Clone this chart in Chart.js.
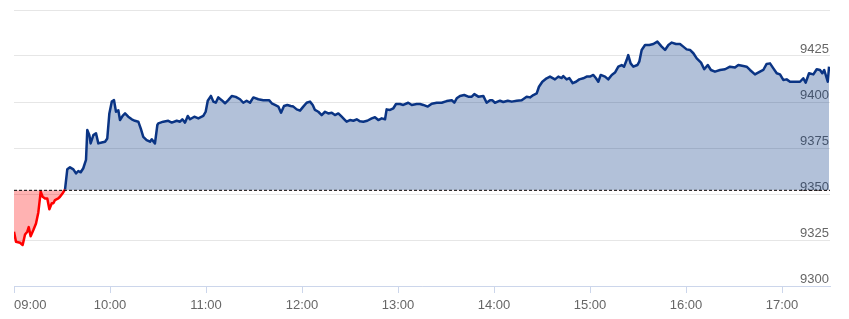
<!DOCTYPE html>
<html>
<head>
<meta charset="utf-8">
<script src="https://cdn.jsdelivr.net/npm/chart.js@4/dist/chart.umd.min.js"></script>
<style>
  html, body { margin: 0; padding: 0; background: #ffffff; }
  #wrap { width: 849px; height: 319px; position: relative; }
</style>
</head>
<body>
<div id="wrap"><canvas id="c" width="849" height="319"></canvas></div>
<script>
// Minutes after 09:00
const minutes = [
  0, 1.25, 3.75, 5.4, 6.9, 8.3, 9.2, 10.4, 12.1, 13.75, 15.2, 16.7, 17.9, 19.4, 20.8, 22.1, 23.6, 24.6, 25.6, 27.7,
  28.75, 30.4, 31.9, 33.3, 35, 37.1, 38.75, 40.2, 41.7, 43.3, 45, 45.8, 47.1, 47.9, 49.6, 51.25, 52.7, 54.8, 56.9, 58.3,
  59.6, 61.1, 62.5, 63.75, 65.2, 66.25, 67.9, 69.4, 71.4, 73.6, 75.6, 77.7, 79.2, 80.8, 82.9, 85, 86.1, 88.1, 89.6, 90.2,
  93.3, 96.4, 98.6, 101.7, 103.75, 105.2, 106.9, 108.6, 110, 112.7, 115.2, 118.3, 119.8, 121.1, 123.1, 124.6, 126.1, 127.7, 129.8, 131.9,
  133.9, 136.1, 138.6, 141.25, 143.3, 145.4, 147.5, 149.6, 152.7, 155.8, 159.4, 161.1, 163.1, 165.2, 166.9, 168.75, 170.8, 172.9, 174.6, 176.7,
  178.75, 180.8, 182.9, 185, 186.7, 188.1, 190.2, 192.3, 194.4, 196.4, 198.6, 200.6, 202.7, 204.8, 206.9, 207.9, 210, 212.1, 214.2, 216.25,
  218.3, 220.8, 223.6, 225.6, 227.7, 229.8, 231.9, 232.9, 235, 237.1, 238.75, 241.25, 243.3, 246.4, 248.6, 251.7, 253.75, 255.8, 258.6, 261.1,
  264.2, 267.3, 270.4, 273.6, 275.2, 276.7, 278.75, 281.4, 283.9, 286.1, 287.7, 290.2, 293.3, 295.4, 297.5, 298.9, 300.6, 303.75, 305.8, 308.6,
  311.1, 314.2, 317.3, 320.4, 322.5, 324.6, 326.7, 328.1, 330.2, 332.9, 335, 338.1, 340.2, 342.3, 343.3, 345.4, 347.1, 349.2, 351.25, 353.3,
  355.8, 357.9, 360, 362.1, 363.75, 365.2, 366.7, 369.4, 371.4, 373.6, 375.6, 377.7, 379.8, 381.25, 382.9, 383.9, 385.4, 387.1, 389.6, 390.8,
  392.3, 394.4, 397.1, 399.6, 402.1, 404.8, 406.9, 409, 411.1, 413.75, 416.25, 418.3, 420.4, 422.5, 424.6, 426.7, 429.4, 431.4, 433.6, 435.6,
  438.1, 441.25, 444.4, 447.5, 450.6, 452.7, 455.8, 457.9, 460, 463.1, 466.25, 468.3, 470.4, 472.5, 474.6, 476.7, 478.75, 480.8, 482.9, 485,
  488.1, 491.25, 493.3, 494.8, 496.9, 499.6, 501.7, 503.75, 505.2, 506.4, 508.6, 509.4
];
const prices = [
  9329.5, 9324, 9323.5, 9322.3, 9328, 9329.5, 9332, 9327, 9330.4, 9334, 9340, 9351.3, 9348.5, 9347.6, 9347.6, 9341.7, 9345, 9345, 9346.7, 9347.6,
  9348.5, 9350.4, 9352.5, 9363.4, 9364.5, 9363.4, 9361.2, 9362.5, 9361.8, 9364, 9368.5, 9384.8, 9382, 9377.5, 9382, 9383, 9377.5, 9378, 9378.4, 9380.2,
  9393.8, 9400.2, 9401, 9394.7, 9395.5, 9390.2, 9392.5, 9393.8, 9392, 9390.6, 9389.8, 9389.3, 9385.7, 9381.1, 9379.3, 9378.4, 9379.7, 9377.5, 9387.5, 9388.4,
  9389.3, 9389.8, 9388.8, 9389.8, 9389.3, 9390.6, 9388.8, 9392.4, 9390.6, 9392, 9391.1, 9392.4, 9394.7, 9400.7, 9403.3, 9400.2, 9399.6, 9402.5, 9401, 9399.3,
  9401, 9403.3, 9402.8, 9401.5, 9399.6, 9400.7, 9399.6, 9402.5, 9401.5, 9401, 9401, 9399.3, 9398.4, 9397.5, 9394.2, 9397.8, 9398.4, 9397.8, 9397.5, 9396,
  9395.3, 9397.5, 9399.6, 9400.2, 9398.4, 9395.7, 9394.7, 9392.9, 9394.7, 9393.8, 9394.2, 9392.9, 9393.8, 9392, 9390.2, 9389.3, 9390.2, 9389.8, 9390.6, 9389.5,
  9389.3, 9389.8, 9391.1, 9391.7, 9390.2, 9391.1, 9390.6, 9396, 9395.7, 9396.6, 9398.9, 9398.9, 9398.4, 9399.6, 9398.4, 9398.9, 9398.9, 9398.4, 9397.5, 9399.1,
  9399.6, 9399.6, 9400.5, 9401, 9399.6, 9402, 9403.3, 9403.8, 9402.9, 9402.9, 9404.3, 9402.9, 9403.3, 9399.6, 9401, 9401, 9399.6, 9400.7, 9400, 9400.7,
  9400.2, 9400.7, 9401, 9402.9, 9402.5, 9403.8, 9404.7, 9408.3, 9411, 9412.9, 9413.8, 9412.3, 9413.8, 9413, 9414.1, 9412.3, 9413, 9410.2, 9411, 9412.3,
  9412.9, 9413.8, 9413.8, 9414.7, 9412.9, 9411, 9414.7, 9413.8, 9412.3, 9414.7, 9416, 9419.2, 9420.1, 9419.2, 9422.8, 9425.5, 9421, 9419.2, 9420.1, 9421.9,
  9428.3, 9431, 9431, 9431.5, 9432.8, 9430.1, 9428.3, 9431, 9432.3, 9431.5, 9431.5, 9430.1, 9428.6, 9428.3, 9426.5, 9423.7, 9421.4, 9417.8, 9420.1, 9417.4,
  9416.5, 9417.4, 9417.8, 9419.2, 9418.7, 9420.1, 9419.6, 9419.2, 9417.4, 9415, 9416.5, 9417.4, 9420.7, 9421, 9418.3, 9415.6, 9415, 9412, 9412.3, 9411,
  9411, 9411, 9412.9, 9410.5, 9415.6, 9415, 9417.8, 9417.4, 9415.6, 9417.4, 9411, 9419.2
];
const prevClose = 9352;
const sessionEnd = 510;              // minutes after 09:00 (17:30)
const hourTicks = [0, 60, 120, 180, 240, 300, 360, 420, 480];
const hourLabels = ['09:00', '10:00', '11:00', '12:00', '13:00', '14:00', '15:00', '16:00', '17:00'];
const priceTicks = [9300, 9325, 9350, 9375, 9400, 9425, 9450];

const NAVY = '#0a3484';
const RED = '#ff0000';

const lineData = minutes.map((m, i) => ({ x: m, y: prices[i] }));
const baseData = [{ x: 0, y: prevClose }, { x: sessionEnd, y: prevClose }];

new Chart(document.getElementById('c'), {
  type: 'line',
  data: {
    datasets: [
      {
        data: lineData,
        borderColor: NAVY,
        borderWidth: 2.5,
        borderJoinStyle: 'round',
        pointRadius: 0,
        tension: 0,
        fill: { target: { value: prevClose }, above: 'rgba(0, 51, 128, 0.30)', below: 'rgba(255, 0, 0, 0.30)' },
        segment: {
          borderColor: ctx => (ctx.p0.parsed.y < prevClose && ctx.p1.parsed.y < prevClose + 2) ? RED : NAVY
        },
        order: 2
      },
      {
        data: baseData,
        borderColor: '#000000',
        borderWidth: 1,
        borderDash: [3, 2],
        pointRadius: 0,
        fill: false,
        order: 1
      }
    ]
  },
  options: {
    responsive: false,
    animation: false,
    layout: { padding: { left: 14, right: 19, top: 10, bottom: 0 } },
    plugins: { legend: { display: false }, tooltip: { enabled: false } },
    scales: {
      x: {
        type: 'linear',
        min: 0,
        max: sessionEnd,
        afterFit: s => { s.height = 33; },
        afterBuildTicks: s => {
          s.ticks = hourTicks.map(v => ({ value: v })).concat([{ value: sessionEnd }]);
        },
        grid: {
          drawOnChartArea: false,
          drawTicks: true,
          tickLength: 7,
          tickColor: ctx => (ctx.tick && ctx.tick.value === sessionEnd) ? 'rgba(0,0,0,0)' : '#ccd6eb'
        },
        border: { display: true, color: '#ccd6eb', width: 1 },
        ticks: {
          autoSkip: false,
          maxRotation: 0,
          align: 'inner',
          padding: 5,
          color: '#666666',
          font: { family: 'Liberation Sans, Arial, sans-serif', size: 13 },
          callback: v => {
            const i = hourTicks.indexOf(v);
            return i >= 0 ? hourLabels[i] : '';
          }
        }
      },
      y: {
        position: 'right',
        min: 9300,
        max: 9450,
        afterFit: s => { s.width = 0; },
        afterBuildTicks: s => { s.ticks = priceTicks.map(v => ({ value: v })); },
        grid: { color: '#e6e6e6', lineWidth: 1, drawTicks: false },
        border: { display: false },
        ticks: {
          mirror: true,
          padding: -1,
          labelOffset: -7,
          color: '#666666',
          font: { family: 'Liberation Sans, Arial, sans-serif', size: 13 },
          callback: v => (v === 9450 ? '' : String(v))
        }
      }
    }
  }
});
</script>
</body>
</html>
